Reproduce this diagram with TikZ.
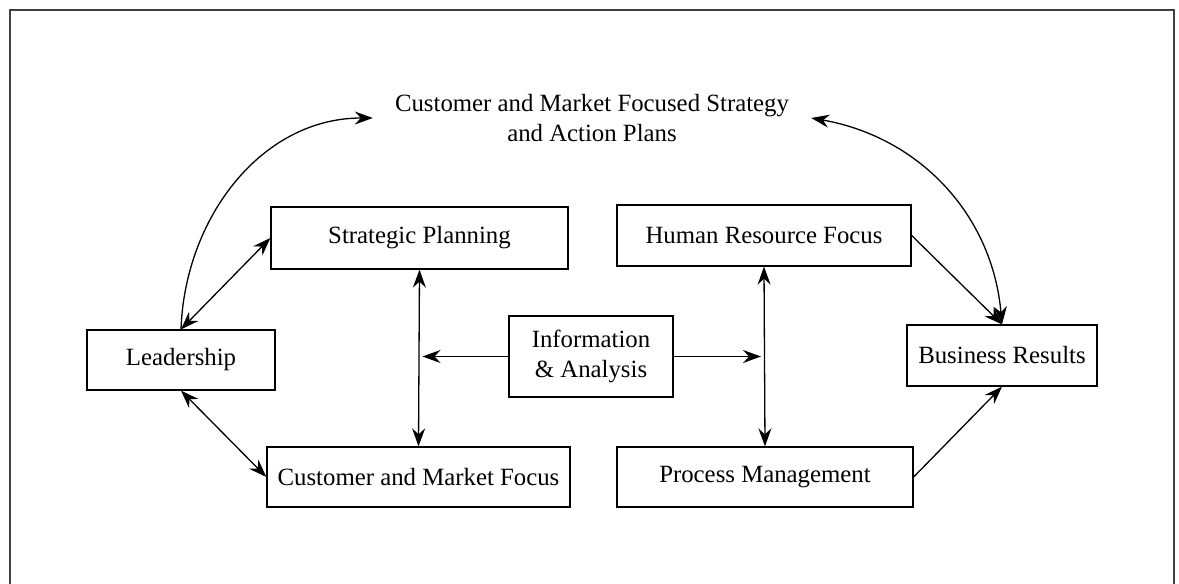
\documentclass[tikz,border=0pt]{standalone}
\usepackage{fontspec}
\setmainfont{Liberation Serif}
\usepackage{tikz}
\usetikzlibrary{arrows.meta,positioning,calc}
\tikzset{>={Stealth[length=18pt,width=13pt,inset=6pt]}}

\begin{document}
\begin{tikzpicture}[x=1pt,y=1pt,
    block/.style={draw,line width=1.3pt,inner sep=0pt,minimum height=61pt,align=center,font=\fontsize{24.8}{30}\selectfont},
    link/.style={line width=1.3pt}]
    \useasboundingbox (0,0) rectangle (1179,584);
    \draw [black!75,line width=1.3pt] (10,0) -- (10,574) -- (1174,574) -- (1174,0);
    \node [align=center,inner xsep=22pt,font=\fontsize{24.8}{30}\selectfont] (plans) at (592,466) {Customer and Market Focused Strategy\\and Action Plans};
    \node [block,minimum width=188pt,minimum height=60pt] (lead) at (181,224) {Leadership};
    \node [block,minimum width=297pt,minimum height=62pt] (strat) at (419.5,346) {Strategic Planning};
    \node [block,minimum width=303pt,minimum height=60pt] (cmf) at (418.5,107) {Customer and Market Focus};
    \node [block,minimum width=164pt,minimum height=81pt] (info) at (591,227.5) {Information\\\& Analysis};
    \node [block,minimum width=294pt] (hrf) at (764,348.5) {Human Resource Focus};
    \node [block,minimum width=296pt,minimum height=60pt] (proc) at (765,107) {Process Management};
    \node [block,minimum width=190pt] (bres) at (1002,228.5) {Business Results};
    \draw [link,->] (lead.north) to[out=88,in=180] (plans.west);
    \draw [link,<->] (bres.north) to[out=95,in=-10] (plans.east);
    \draw [link,<->] (lead.north) -- (strat.west);
    \draw [link,<->] (lead.south) -- (cmf.west);
    \draw [link,<->] (strat.south) -- (cmf.north);
    \draw [link,<->] (hrf.south) -- (proc.north);
    \draw [link,->,shorten >=3pt] (info.west) -- (info.west -| strat.south);
    \draw [link,->,shorten >=3pt] (info.east) -- (info.east -| hrf.south);
    \draw [link,->] (hrf.east) -- (bres.north);
    \draw [link,->] (proc.east) -- (bres.south);
\end{tikzpicture}
\end{document}
